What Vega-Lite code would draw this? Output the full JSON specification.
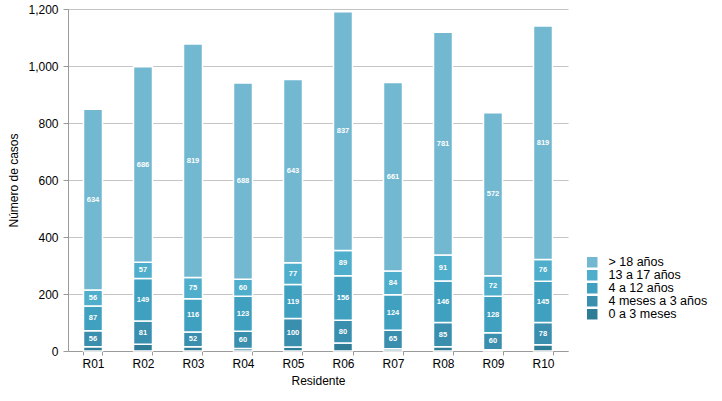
{
  "$schema": "https://vega.github.io/schema/vega-lite/v6.json",
  "width": 500,
  "height": 342,
  "autosize": {"type": "none"},
  "padding": {"left": 68, "top": 9, "right": 154, "bottom": 50},
  "background": "white",
  "config": {
    "font": "Liberation Sans",
    "view": {"stroke": null},
    "axis": {"labelFont": "Liberation Sans", "titleFont": "Liberation Sans", "labelColor": "#000", "titleColor": "#000", "titleFontWeight": "normal", "labelFontSize": 12, "titleFontSize": 12}
  },
  "data": {"values": [
    {"r": "R01", "g": "0 a 3 meses", "k": 1, "v": 15},
    {"r": "R01", "g": "4 meses a 3 años", "k": 2, "v": 56},
    {"r": "R01", "g": "4 a 12 años", "k": 3, "v": 87},
    {"r": "R01", "g": "13 a 17 años", "k": 4, "v": 56},
    {"r": "R01", "g": "> 18 años", "k": 5, "v": 634},
    {"r": "R02", "g": "0 a 3 meses", "k": 1, "v": 24},
    {"r": "R02", "g": "4 meses a 3 años", "k": 2, "v": 81},
    {"r": "R02", "g": "4 a 12 años", "k": 3, "v": 149},
    {"r": "R02", "g": "13 a 17 años", "k": 4, "v": 57},
    {"r": "R02", "g": "> 18 años", "k": 5, "v": 686},
    {"r": "R03", "g": "0 a 3 meses", "k": 1, "v": 15},
    {"r": "R03", "g": "4 meses a 3 años", "k": 2, "v": 52},
    {"r": "R03", "g": "4 a 12 años", "k": 3, "v": 116},
    {"r": "R03", "g": "13 a 17 años", "k": 4, "v": 75},
    {"r": "R03", "g": "> 18 años", "k": 5, "v": 819},
    {"r": "R04", "g": "0 a 3 meses", "k": 1, "v": 9},
    {"r": "R04", "g": "4 meses a 3 años", "k": 2, "v": 60},
    {"r": "R04", "g": "4 a 12 años", "k": 3, "v": 123},
    {"r": "R04", "g": "13 a 17 años", "k": 4, "v": 60},
    {"r": "R04", "g": "> 18 años", "k": 5, "v": 688},
    {"r": "R05", "g": "0 a 3 meses", "k": 1, "v": 14},
    {"r": "R05", "g": "4 meses a 3 años", "k": 2, "v": 100},
    {"r": "R05", "g": "4 a 12 años", "k": 3, "v": 119},
    {"r": "R05", "g": "13 a 17 años", "k": 4, "v": 77},
    {"r": "R05", "g": "> 18 años", "k": 5, "v": 643},
    {"r": "R06", "g": "0 a 3 meses", "k": 1, "v": 28},
    {"r": "R06", "g": "4 meses a 3 años", "k": 2, "v": 80},
    {"r": "R06", "g": "4 a 12 años", "k": 3, "v": 156},
    {"r": "R06", "g": "13 a 17 años", "k": 4, "v": 89},
    {"r": "R06", "g": "> 18 años", "k": 5, "v": 837},
    {"r": "R07", "g": "0 a 3 meses", "k": 1, "v": 8},
    {"r": "R07", "g": "4 meses a 3 años", "k": 2, "v": 65},
    {"r": "R07", "g": "4 a 12 años", "k": 3, "v": 124},
    {"r": "R07", "g": "13 a 17 años", "k": 4, "v": 84},
    {"r": "R07", "g": "> 18 años", "k": 5, "v": 661},
    {"r": "R08", "g": "0 a 3 meses", "k": 1, "v": 15},
    {"r": "R08", "g": "4 meses a 3 años", "k": 2, "v": 85},
    {"r": "R08", "g": "4 a 12 años", "k": 3, "v": 146},
    {"r": "R08", "g": "13 a 17 años", "k": 4, "v": 91},
    {"r": "R08", "g": "> 18 años", "k": 5, "v": 781},
    {"r": "R09", "g": "0 a 3 meses", "k": 1, "v": 4},
    {"r": "R09", "g": "4 meses a 3 años", "k": 2, "v": 60},
    {"r": "R09", "g": "4 a 12 años", "k": 3, "v": 128},
    {"r": "R09", "g": "13 a 17 años", "k": 4, "v": 72},
    {"r": "R09", "g": "> 18 años", "k": 5, "v": 572},
    {"r": "R10", "g": "0 a 3 meses", "k": 1, "v": 22},
    {"r": "R10", "g": "4 meses a 3 años", "k": 2, "v": 78},
    {"r": "R10", "g": "4 a 12 años", "k": 3, "v": 145},
    {"r": "R10", "g": "13 a 17 años", "k": 4, "v": 76},
    {"r": "R10", "g": "> 18 años", "k": 5, "v": 819}
  ]},
  "encoding": {
    "x": {"field": "r", "type": "nominal", "title": "Residente",
      "scale": {"paddingInner": 0.62, "paddingOuter": 0.31},
      "axis": {"labelAngle": 0, "domainColor": "#9a9a9a", "tickColor": "#9a9a9a", "tickBand": "extent", "tickSize": 4, "labelPadding": 3, "titlePadding": 6}},
    "y": {"field": "v", "type": "quantitative", "stack": "zero", "title": "Número de casos",
      "scale": {"domain": [0, 1200]},
      "axis": {"values": [0, 200, 400, 600, 800, 1000, 1200], "format": ",.0f", "grid": true, "gridColor": "#c4c4c4", "domainColor": "#9a9a9a", "tickColor": "#9a9a9a", "tickSize": 5, "labelPadding": 5, "titlePadding": 7}},
    "order": {"field": "k", "type": "quantitative", "sort": "ascending"}
  },
  "layer": [
    {
      "mark": {"type": "bar", "stroke": "white", "strokeWidth": 1.5},
      "encoding": {
        "color": {"field": "g", "type": "nominal", "title": null,
          "scale": {"domain": ["> 18 años", "13 a 17 años", "4 a 12 años", "4 meses a 3 años", "0 a 3 meses"],
                    "range": ["#72b8d1", "#4faecb", "#40a0c0", "#3a8eae", "#2f7c96"]},
          "legend": {"orient": "none", "legendX": 518, "legendY": 247, "symbolType": "square", "symbolSize": 110, "symbolStrokeWidth": 0, "labelFontSize": 12.5, "labelFont": "Liberation Sans", "labelColor": "#000", "rowPadding": 0, "labelOffset": 10}}
      }
    },
    {
      "mark": {"type": "text", "color": "white", "fontSize": 7.5, "fontWeight": "bold", "baseline": "middle"},
      "encoding": {
        "y": {"field": "v", "type": "quantitative", "stack": "zero", "bandPosition": 0.5},
        "text": {"condition": {"test": "datum.k === 1", "value": ""}, "field": "v", "type": "quantitative"}
      }
    }
  ]
}
